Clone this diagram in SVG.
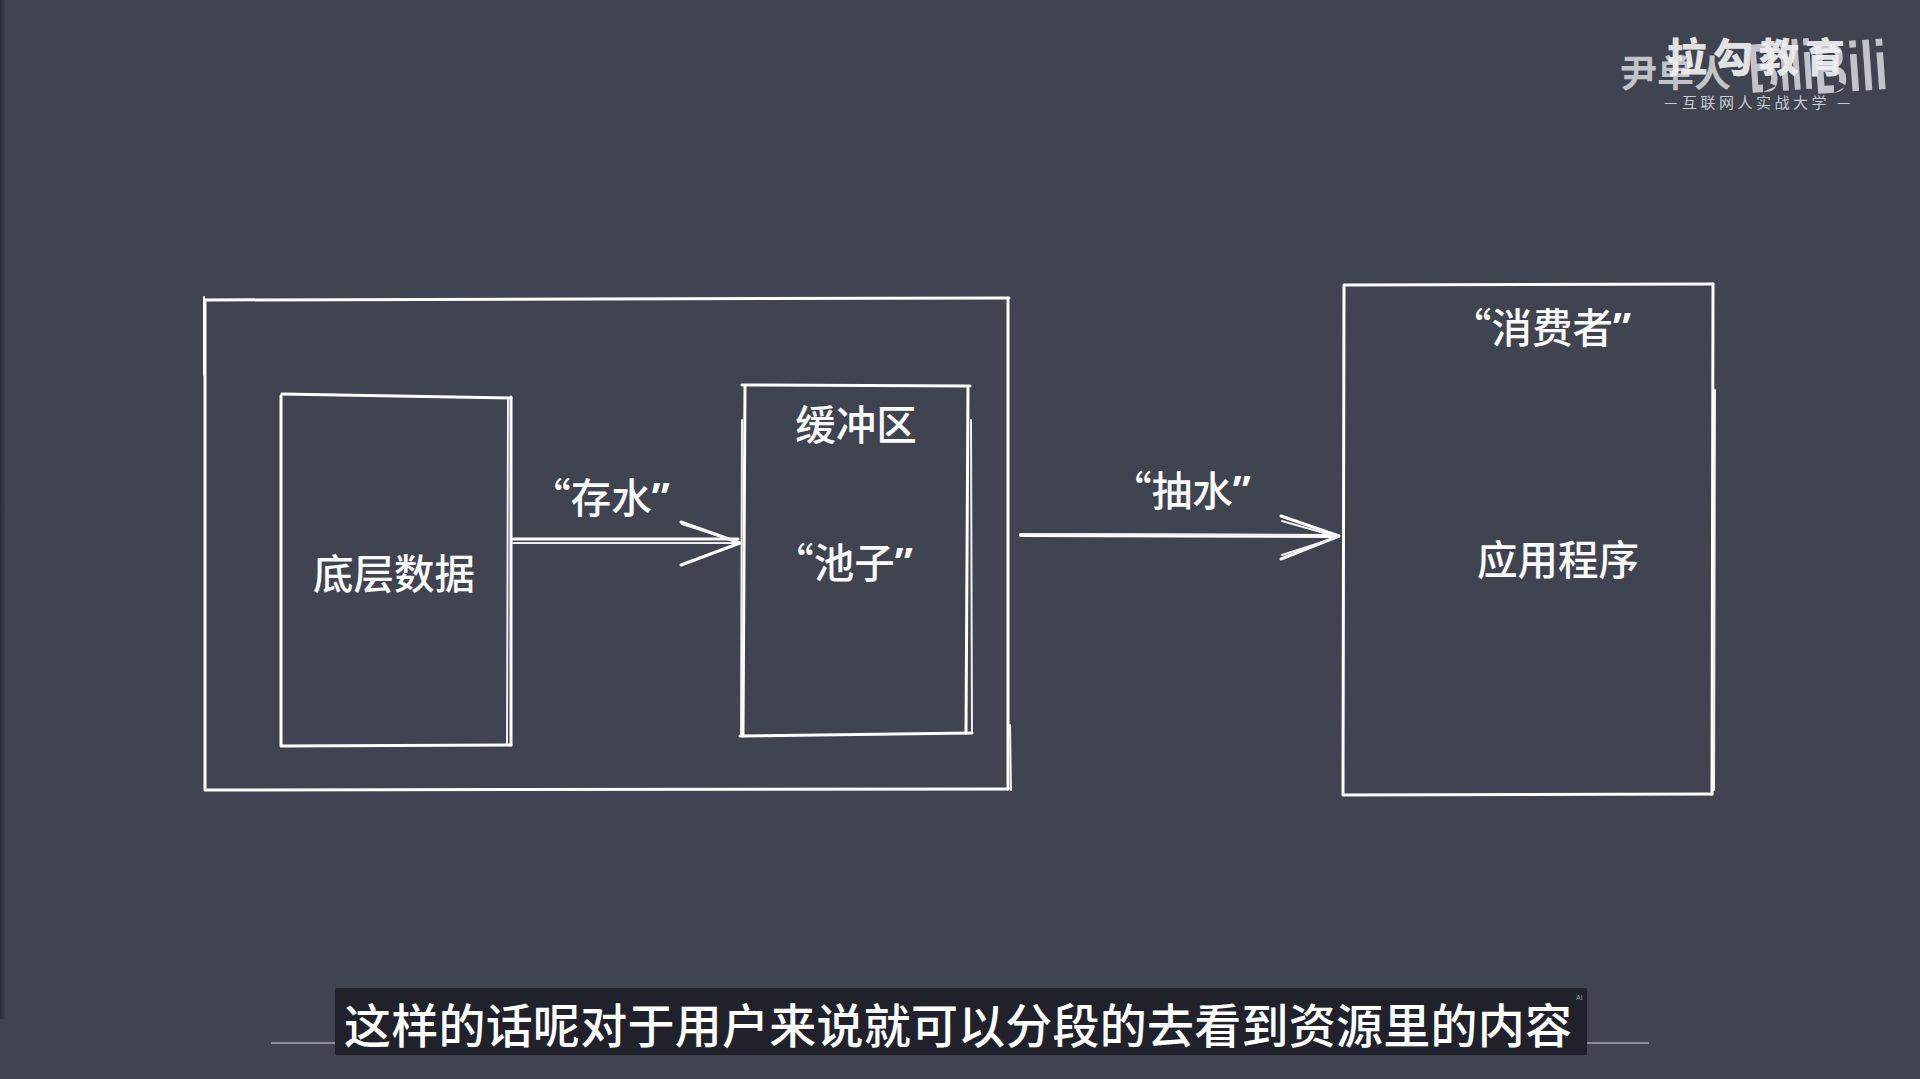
<svg xmlns="http://www.w3.org/2000/svg" width="1920" height="1079" viewBox="0 0 1920 1079">
<defs>
<style>
.s{fill:none;stroke:#fff;stroke-width:3;stroke-linecap:round;stroke-linejoin:round}
.t{stroke-width:2;stroke:#eef0f4}
.h{stroke-width:4}
.l{font-family:"Noto Sans CJK SC","Noto Sans",sans-serif;font-weight:500;font-size:40.5px;fill:#fafafa;text-anchor:middle}
.o{font-family:"Open Sans","Noto Sans CJK SC",sans-serif;font-weight:700}
.b{font-family:"Liberation Sans",sans-serif;font-weight:700;font-size:70px;fill:#cfd0d6}
.c{font-family:"Noto Sans CJK SC",sans-serif}
</style>
<linearGradient id="edge" x1="0" x2="1" y1="0" y2="0"><stop offset="0" stop-color="#2b2e3e"/><stop offset="1" stop-color="#393c4a"/></linearGradient>
</defs>
<rect width="1920" height="1079" fill="#404350"/>
<rect x="0" y="0" width="5" height="1019" fill="url(#edge)"/>

<g id="connectors">
<path class="s" d="M513 539L738 539"/><path class="s t" d="M513 543L738 543"/>
<path class="s" d="M681 522L740 543L681 565"/><path class="s t" d="M682 524L738 542"/>
<path class="s h" d="M1021 535L1338 536"/><path class="s t" d="M1022 534L1300 535"/>
<path class="s" d="M1281 516L1339 536L1281 559"/><path class="s t" d="M1282 521L1338 537L1282 555"/>
</g>

<g id="storage-box">
<path class="s" d="M205 300L1009 298"/><path class="s t" d="M204 297L204 375"/><path class="s" d="M205 300L205 790L1008 789"/>
<path class="s" d="M1008 298L1008 789"/><path class="s t" d="M1010 725L1011 790"/>
</g>

<g id="bottom-data">
<path class="s" d="M282 394L511 398"/><path class="s" d="M281 396L281 746L511 745"/><path class="s" d="M511 397L511 745"/><path class="s t" d="M508 400L507 745"/>
<text class="l" x="394" y="589">底层数据</text>
</g>

<g id="buffer">
<path class="s" d="M742 385L970 386"/><path class="s" d="M745 387L743 736"/><path class="s t" d="M742 420L741 736"/>
<path class="s" d="M740 736L972 733"/><path class="s" d="M968 388L966 733"/><path class="s t" d="M971 420L972 733"/>
<text class="l" x="856" y="440">缓冲区</text>
<text class="l" x="843" y="578">“池子<tspan class="o">”</tspan></text>
</g>

<g id="consumer">
<path class="s" d="M1344 285L1713 284"/><path class="s" d="M1344 286L1343 795L1712 794"/><path class="s" d="M1713 284L1712 794"/><path class="s t" d="M1715 390L1714 790"/>
<text class="l" x="1541" y="343">“消费者<tspan class="o">”</tspan></text>
<text class="l" x="1558" y="575">应用程序</text>
</g>

<g id="label-store"><text class="l" x="600" y="513">“存水<tspan class="o">”</tspan></text></g>
<g id="label-pump"><text class="l" x="1181" y="506">“抽水<tspan class="o">”</tspan></text></g>

<g id="watermark">
<text class="c" x="1620" y="87" font-weight="700" font-size="37" fill="#c9cad0" opacity=".95">尹单人</text>
<text class="b" transform="translate(1750 93) rotate(-4) scale(.6 1)" opacity=".92">Bili</text>
<polygon points="1763,80 1776,86 1763,92" fill="#404350"/>
<text class="b" transform="translate(1815 94) rotate(-4) scale(.68 1)" opacity=".92">Bili</text>
<polygon points="1834,79 1847,86 1834,93" fill="#404350"/>
<text class="c" x="1667" y="72" font-weight="900" font-size="40" letter-spacing="6" fill="#f0f0f2" opacity=".92">拉勾教育</text>
<text class="c" y="108" font-size="15" letter-spacing="3.5" fill="#c9cad0"><tspan x="1664">—</tspan><tspan x="1682">互联网人实战大学</tspan><tspan x="1837">—</tspan></text>
</g>

<g id="subtitle">
<line x1="271" y1="1043" x2="1649" y2="1043" stroke="#d4d6dc" stroke-width="1.2"/>
<rect x="335" y="988" width="1252" height="67" rx="2" fill="#20212a"/>
<text class="c" x="344" y="1043" font-weight="500" font-size="47" fill="#fff" textLength="1228" lengthAdjust="spacing">这样的话呢对于用户来说就可以分段的去看到资源里的内容</text>
<text x="1576" y="1000" font-family="'Liberation Sans',sans-serif" font-size="7" fill="#9a9ba2">AI</text>
</g>
</svg>
